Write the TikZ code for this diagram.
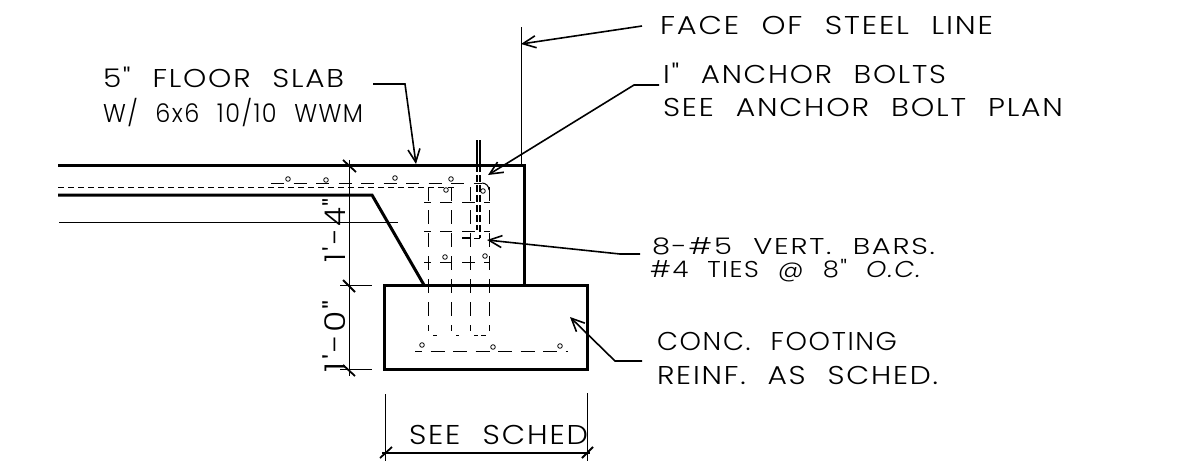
\documentclass[tikz,border=0pt]{standalone}
\usepackage{fontspec}
\usepackage{graphicx}
\usetikzlibrary{arrows.meta}
\newfontfamily\cadfont[LetterSpace=6,WordSpace=2.2]{Poppins Light}
\newcommand{\cadtxt}[3]{\resizebox{#1pt}{#2pt}{\fontsize{24}{24}\cadfont\vphantom{H}\smash{#3}}}
\tikzset{
  x=1pt,y=-1pt,
  lbl/.style={inner sep=0pt,outer sep=0pt,anchor=south west},
  heavy/.style={line width=3pt},
  thinl/.style={line width=1pt},
  leader/.style={line width=1.6pt,-{Straight Barb[length=13pt,width=12pt,line width=1.6pt]}},
  dashh/.style={line width=1pt,dash pattern=on 13pt off 9.5pt},
  dashf/.style={line width=1pt,dash pattern=on 6pt off 4pt},
  dashv/.style={line width=1pt,dash pattern=on 14pt off 9pt},
  barc/.style={draw,line width=.8pt,circle,inner sep=0pt,minimum size=4.6pt},
  ticko/.style={line width=1.8pt},
}
\begin{document}
\begin{tikzpicture}
\useasboundingbox (0,0) rectangle (1177,461);
% labels
\node[lbl] (tface) at (660,34) {\cadtxt{333}{18}{FACE OF STEEL LINE}};
\node[lbl] (tanch) at (663,83) {\cadtxt{283}{18}{I" ANCHOR BOLTS}};
\node[lbl] (tsee) at (663,116) {\cadtxt{400}{18}{SEE ANCHOR BOLT PLAN}};
\node[lbl] (tslab) at (103,87) {\cadtxt{241}{18}{5" FLOOR SLAB}};
\node[lbl] (twwm) at (103,122) {\cadtxt{260}{18}{W/ 6x6 10/10 WWM}};
\node[lbl] (tbars) at (652,254) {\cadtxt{283}{16}{8-\#5 VERT. BARS.}};
\node[lbl] (tties) at (650,277) {\cadtxt{272}{16}{\#4 TIES @ 8" \textit{O.C.}}};
\node[lbl] (tconc) at (657,350) {\cadtxt{240}{18}{CONC. FOOTING}};
\node[lbl] (treinf) at (657,384) {\cadtxt{281}{18}{REINF. AS SCHED.}};
\node[lbl] (tsched) at (409,444) {\cadtxt{179}{19}{SEE SCHED}};
\node[lbl,rotate=90] (tdima) at (345,262) {\cadtxt{64}{20}{1'-4"}};
\node[lbl,rotate=90] (tdimb) at (345,372) {\cadtxt{72}{20}{1'-0"}};
% structure
\coordinate (sl) at (58,165); \coordinate (sr) at (524,165); \coordinate (wb) at (524,285);
\coordinate (il) at (58,195); \coordinate (ik) at (372,195); \coordinate (id) at (424,285);
\draw[heavy] (sl) -- (sr) -- (wb);
\draw[heavy] (il) -- (ik) -- (id);
\node[draw,heavy,outer sep=0pt,minimum width=203pt,minimum height=84pt,inner sep=0pt,anchor=north west] (foot) at (384.5,285) {};
\coordinate (mesh) at (58,187); \coordinate (meshe) at (455,187);
\draw[dashf] (mesh) -- (meshe);
\coordinate (ul) at (59,222); \coordinate (ur) at (398,222);
\draw[thinl] (ul) -- (ur);
% dimensions
\coordinate (da) at (349,160); \coordinate (db) at (349,376);
\draw[thinl] (da) -- (db);
\coordinate (e1) at (340,285); \coordinate (e1b) at (372,285);
\coordinate (e2) at (340,369.5); \coordinate (e2b) at (372,369.5);
\draw[thinl] (e1) -- (e1b);
\draw[thinl] (e2) -- (e2b);
\coordinate (t1a) at (343,160); \coordinate (t1b) at (356,172);
\coordinate (t2a) at (343,280); \coordinate (t2b) at (355,292);
\coordinate (t3a) at (343,365); \coordinate (t3b) at (355,376);
\draw[ticko] (t1a) -- (t1b);
\draw[ticko] (t2a) -- (t2b);
\draw[ticko] (t3a) -- (t3b);
\coordinate (v1) at (385.5,394); \coordinate (v1b) at (385.5,461);
\coordinate (v2) at (587,393); \coordinate (v2b) at (587,461);
\coordinate (h1) at (382,453); \coordinate (h2) at (590,453);
\draw[thinl] (v1) -- (v1b);
\draw[thinl] (v2) -- (v2b);
\draw[line width=1.2pt] (h1) -- (h2);
\coordinate (t4a) at (380,458); \coordinate (t4b) at (392,447);
\coordinate (t5a) at (582,458); \coordinate (t5b) at (593,447);
\draw[ticko] (t4a) -- (t4b);
\draw[ticko] (t5a) -- (t5b);
% steel line
\coordinate (fs) at (521,27); \coordinate (fe) at (521,165);
\draw[thinl] (fs) -- (fe);
% rebar
\coordinate (r0) at (271,183); \coordinate (r1) at (482,183);
\draw[dashh] (r0) -- (r1);
\draw[thinl] (r1) arc[start angle=90,end angle=0,radius=7pt];
\foreach \n/\x in {a/428.5,b/451.5,c/470,d/489}{
  \coordinate (vt\n) at (\x,187); \coordinate (vb\n) at (\x,331);
  \draw[dashv] (vt\n) -- (vb\n);
}
% ties
\foreach \n/\y in {a/202,b/231,c/262}{
  \foreach \m/\xa/\xb in {p/424/431,q/440/452,r/462/475,s/484/490}{
    \coordinate (ts\n\m) at (\xa,\y); \coordinate (te\n\m) at (\xb,\y);
    \draw[thinl] (ts\n\m) -- (te\n\m);
  }
}
\coordinate (fl) at (415,351); \coordinate (fr) at (568,351);
\draw[line width=1pt,dash pattern=on 14pt off 8.5pt,dash phase=7pt] (fl) -- (fr);
\foreach \m/\xa/\xb in {p/433/437,q/456/459,r/474/478,s/481/486}{
  \coordinate (us\m) at (\xa,335.5); \coordinate (ue\m) at (\xb,335.5);
  \draw[line width=.8pt] (us\m) -- (ue\m);
}
\foreach \n/\x/\y in {a/288/179,b/326/180,c/395/178,d/451/179,e/446/190,f/483/191,g/445/257,h/485/256,i/422/345,j/493/347,k/560/346}{
  \node[barc,fill=white] (c\n) at (\x,\y) {};
}
% bolt
\coordinate (b1a) at (477,140); \coordinate (b1b) at (477,165);
\coordinate (b2a) at (480,140); \coordinate (b2b) at (480,165);
\draw[line width=1.1pt] (b1a) -- (b1b);
\draw[line width=1.1pt] (b2a) -- (b2b);
\coordinate (b3a) at (477,165); \coordinate (b3b) at (477,230);
\coordinate (b4a) at (480,165); \coordinate (b4b) at (480,238);
\draw[line width=1.1pt,dash pattern=on 7pt off 3pt] (b3a) -- (b3b);
\draw[line width=1.1pt,dash pattern=on 7pt off 3pt] (b4a) -- (b4b);
\coordinate (hk1) at (462,238); \coordinate (hk2) at (471,238);
\draw[line width=1.2pt] (hk1) -- (hk2);
\coordinate (hk3) at (474,238);
\draw[line width=1pt] (hk3) -- (b4b);
% leaders
\coordinate (lf1) at (642,26); \coordinate (lf2) at (521,44);
\draw[leader] (lf1) -- (lf2);
\coordinate (la1) at (659,85); \coordinate (la2) at (634,85); \coordinate (la3) at (488,175);
\draw[leader] (la1) -- (la2) -- (la3);
\coordinate (ls1) at (373,84); \coordinate (ls2) at (405,84); \coordinate (ls3) at (416,164);
\draw[leader] (ls1) -- (ls2) -- (ls3);
\coordinate (lb1) at (640,254); \coordinate (lb2) at (620,254); \coordinate (lb3) at (487,240);
\draw[leader] (lb1) -- (lb2) -- (lb3);
\coordinate (lc1) at (642,361); \coordinate (lc2) at (615,361); \coordinate (lc3) at (570,317);
\draw[leader] (lc1) -- (lc2) -- (lc3);
\end{tikzpicture}
\end{document}
